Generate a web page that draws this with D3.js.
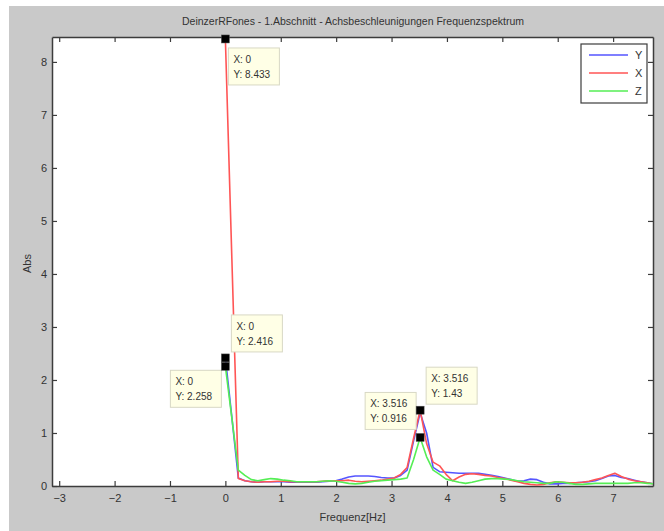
<!DOCTYPE html>
<html><head><meta charset="utf-8">
<script src="https://cdn.jsdelivr.net/npm/d3@7"></script>
<style>
html,body{margin:0;padding:0;background:#fff;}
svg{display:block;font-family:"Liberation Sans",Arial,sans-serif;}
</style></head>
<body>
<svg id="chart" width="664" height="531"></svg>
<script>
const title = "DeinzerRFones - 1.Abschnitt - Achsbeschleunigungen Frequenzspektrum";
const xLabel = "Frequenz[Hz]";
const yLabel = "Abs";
const xTicks = [-3,-2,-1,0,1,2,3,4,5,6,7];
const yTicks = [0,1,2,3,4,5,6,7,8];
const xDomain = [-3.13, 7.72];
const yDomain = [0, 8.47];

const freq = [0,0.117,0.234,0.352,0.469,0.586,0.703,0.820,0.938,1.055,1.172,1.289,1.406,1.523,1.641,1.758,1.875,1.992,2.109,2.227,2.344,2.461,2.578,2.695,2.813,2.930,3.047,3.164,3.281,3.398,3.516,3.633,3.750,3.867,3.984,4.102,4.219,4.336,4.453,4.570,4.688,4.805,4.922,5.039,5.156,5.273,5.391,5.508,5.625,5.742,5.859,5.977,6.094,6.211,6.328,6.445,6.563,6.680,6.797,6.914,7.031,7.148,7.266,7.383,7.500,7.617,7.734];

const seriesY = [2.416,1.30,0.15,0.10,0.08,0.07,0.08,0.08,0.08,0.08,0.07,0.07,0.07,0.07,0.07,0.08,0.09,0.10,0.13,0.17,0.19,0.19,0.19,0.18,0.16,0.15,0.15,0.20,0.30,0.85,1.38,1.00,0.35,0.27,0.26,0.25,0.24,0.24,0.24,0.24,0.22,0.20,0.18,0.15,0.12,0.09,0.10,0.13,0.12,0.07,0.04,0.04,0.05,0.05,0.06,0.07,0.08,0.10,0.14,0.19,0.20,0.16,0.14,0.11,0.08,0.06,0.04];
const seriesX = [8.433,4.29,0.14,0.10,0.08,0.07,0.08,0.08,0.09,0.09,0.08,0.08,0.08,0.08,0.08,0.09,0.10,0.10,0.10,0.11,0.09,0.08,0.09,0.10,0.11,0.13,0.15,0.22,0.35,0.90,1.43,0.80,0.45,0.38,0.22,0.10,0.17,0.22,0.23,0.22,0.20,0.19,0.16,0.14,0.11,0.08,0.05,0.03,0.02,0.03,0.06,0.08,0.07,0.06,0.06,0.07,0.09,0.12,0.15,0.20,0.24,0.18,0.13,0.10,0.08,0.06,0.04];
const seriesZ = [2.258,1.28,0.30,0.20,0.12,0.10,0.12,0.14,0.13,0.11,0.10,0.08,0.08,0.08,0.08,0.09,0.10,0.09,0.07,0.05,0.04,0.05,0.07,0.09,0.10,0.11,0.12,0.13,0.15,0.50,0.916,0.55,0.30,0.22,0.13,0.10,0.07,0.05,0.07,0.10,0.13,0.14,0.14,0.13,0.12,0.10,0.08,0.07,0.06,0.05,0.05,0.08,0.07,0.05,0.03,0.03,0.04,0.05,0.05,0.05,0.05,0.05,0.05,0.06,0.06,0.05,0.04];

const seriesNames = ["Y","X","Z"];
const seriesColors = ["#5555ff","#ff5555","#55ee55"];

// data tips
const tipX = [0,0,0,3.516,3.516];
const tipY = [8.433,2.416,2.258,0.916,1.43];
const tipLabelX = ["0","0","0","3.516","3.516"];
const tipLabelY = ["8.433","2.416","2.258","0.916","1.43"];

const svg = d3.select("#chart");
const W = 664, H = 531;
const m = {left:52, top:37, right:653, bottom:486};

// figure background
svg.append("rect").attr("x",9).attr("y",6).attr("width",W-9).attr("height",H-6).attr("fill","#c9c9c9");

const x = d3.scaleLinear().domain(xDomain).range([m.left, m.right]);
const y = d3.scaleLinear().domain(yDomain).range([m.bottom, m.top]);

svg.append("rect").attr("x",m.left).attr("y",m.top).attr("width",m.right-m.left).attr("height",m.bottom-m.top).attr("fill","#fff");

const axisColor = "#3c3c3c";
const tickLen = 5;

const gB = svg.append("g").attr("transform",`translate(0,${m.bottom})`)
  .call(d3.axisBottom(x).tickValues(xTicks).tickSizeInner(-tickLen).tickSizeOuter(0).tickPadding(8).tickFormat(d3.format("d")));
const gT = svg.append("g").attr("transform",`translate(0,${m.top})`)
  .call(d3.axisTop(x).tickValues(xTicks).tickSizeInner(-tickLen).tickSizeOuter(0).tickFormat(""));
const gL = svg.append("g").attr("transform",`translate(${m.left},0)`)
  .call(d3.axisLeft(y).tickValues(yTicks).tickSizeInner(-tickLen).tickSizeOuter(0).tickPadding(5).tickFormat(d3.format("d")));
const gR = svg.append("g").attr("transform",`translate(${m.right},0)`)
  .call(d3.axisRight(y).tickValues(yTicks).tickSizeInner(-tickLen).tickSizeOuter(0).tickFormat(""));
[gB,gT,gL,gR].forEach(g=>{
  g.select(".domain").attr("stroke",axisColor).attr("stroke-width",1.5);
  g.selectAll(".tick line").attr("stroke",axisColor).attr("stroke-width",1.2);
  g.selectAll(".tick text").attr("fill","#333").attr("font-size",11).attr("font-family","Liberation Sans, Arial, sans-serif");
});

svg.append("clipPath").attr("id","clip").append("rect")
  .attr("x",m.left).attr("y",m.top).attr("width",m.right-m.left).attr("height",m.bottom-m.top);

const line = d3.line().x((d,i)=>x(freq[i])).y(d=>y(d));
const allSeries = [seriesY, seriesX, seriesZ];
[0,1,2].forEach(k=>{
  svg.append("path").attr("clip-path","url(#clip)")
    .attr("d",line(allSeries[k])).attr("fill","none")
    .attr("stroke",seriesColors[k]).attr("stroke-width",1.6).attr("stroke-linejoin","round");
});

svg.append("text").attr("x",353).attr("y",25).attr("text-anchor","middle")
  .attr("font-size",10.5).attr("fill","#333").text(title);
svg.append("text").attr("x",(m.left+m.right)/2).attr("y",521).attr("text-anchor","middle")
  .attr("font-size",11).attr("fill","#333").text(xLabel);
svg.append("text").attr("transform",`translate(31,${(m.top+m.bottom)/2+2}) rotate(-90)`).attr("text-anchor","middle")
  .attr("font-size",11).attr("fill","#333").text(yLabel);

const tipOffsets = [[3,9],[6,-43],[-55,4],[-55,-45],[6,-43]];
tipX.forEach((tx,i)=>{
  const px = x(tx), py = y(tipY[i]);
  const bx = px + tipOffsets[i][0], by = py + tipOffsets[i][1];
  const wBox = tipLabelY[i].length > 4 || tipLabelX[i].length > 3 ? 51 : 48;
  const g = svg.append("g");
  g.append("rect").attr("x",bx).attr("y",by).attr("width",wBox).attr("height",37)
    .attr("fill","#ffffe6").attr("stroke","#d8d8c4").attr("stroke-width",1);
  g.append("text").attr("x",bx+5).attr("y",by+15).attr("font-size",10).attr("fill","#333").text("X: "+tipLabelX[i]);
  g.append("text").attr("x",bx+5).attr("y",by+30).attr("font-size",10).attr("fill","#333").text("Y: "+tipLabelY[i]);
  svg.append("rect").attr("x",px-4).attr("y",py-4).attr("width",8).attr("height",8)
    .attr("fill","#000").attr("stroke","#555").attr("stroke-width",0.5);
});

const lg = svg.append("g");
lg.append("rect").attr("x",581).attr("y",44).attr("width",66).attr("height",59)
  .attr("fill","#fff").attr("stroke",axisColor).attr("stroke-width",1.2);
seriesNames.forEach((n,i)=>{
  const ly = 55 + i*18;
  lg.append("line").attr("x1",589).attr("x2",628).attr("y1",ly).attr("y2",ly)
    .attr("stroke",seriesColors[i]).attr("stroke-width",1.6);
  lg.append("text").attr("x",635).attr("y",ly+4).attr("font-size",11).attr("fill","#333").text(n);
});
</script>
</body></html>
